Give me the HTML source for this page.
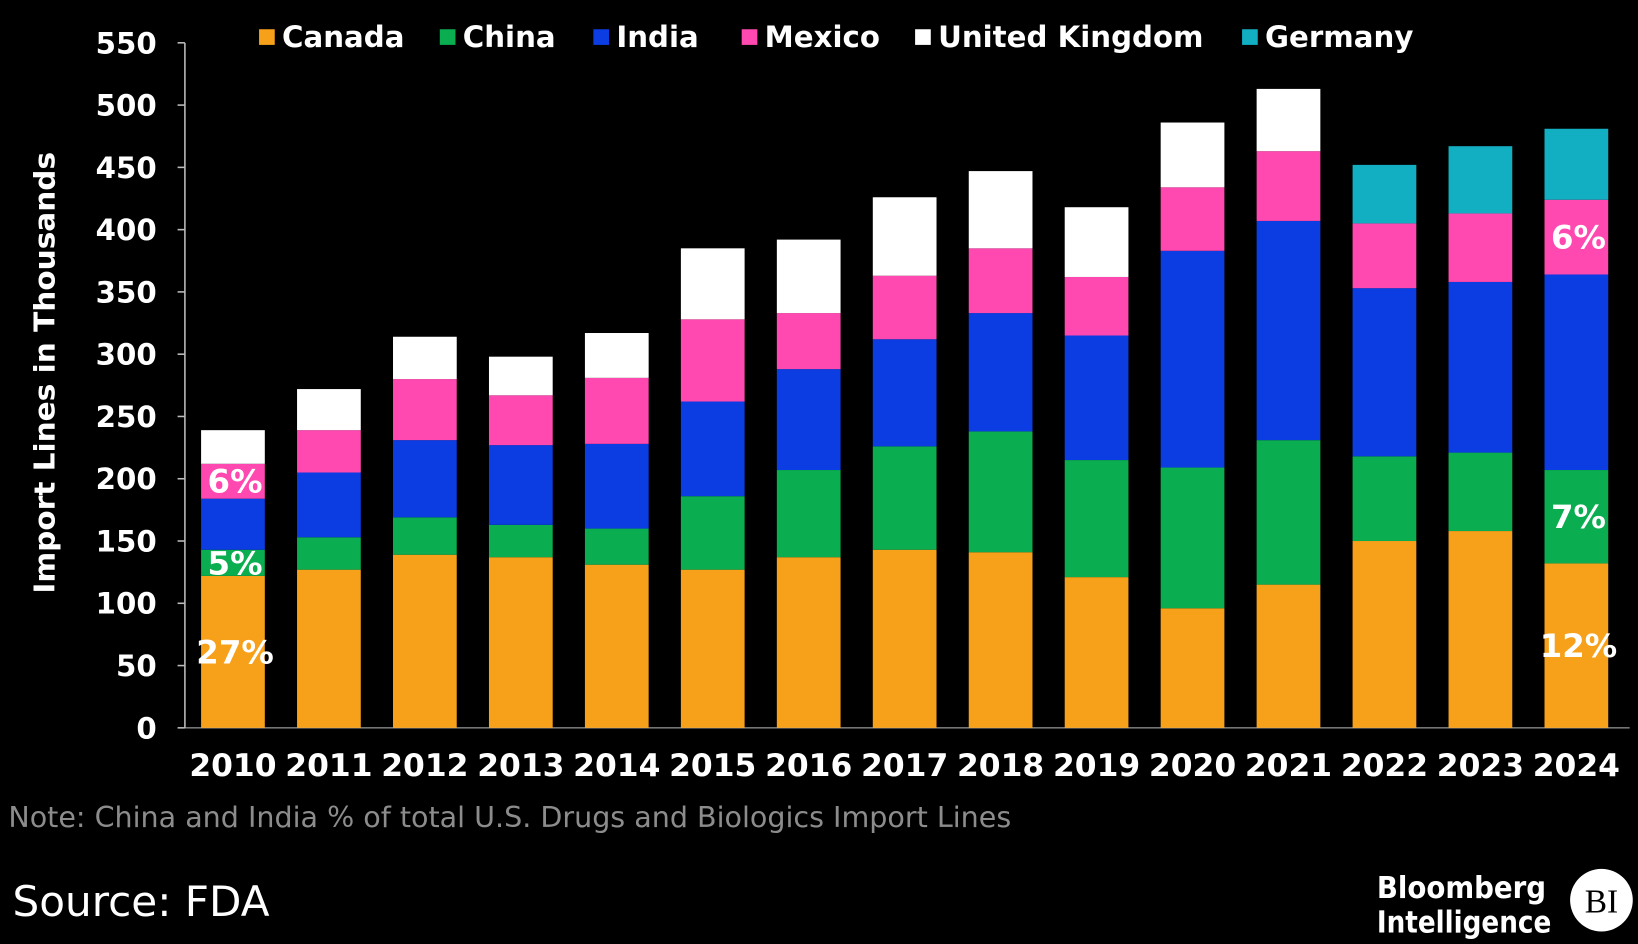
<!DOCTYPE html>
<html><head><meta charset="utf-8">
<style>
html,body{margin:0;padding:0;background:#000;overflow:hidden}
svg{display:block}
text{font-family:"DejaVu Sans","Liberation Sans",sans-serif}
</style></head>
<body>
<svg id="chart" width="1638" height="944" viewBox="0 0 1568 904" preserveAspectRatio="none" xmlns="http://www.w3.org/2000/svg">
<rect x="0" y="0" width="1568" height="904" fill="#000"/>
<g id="legend"></g>
<g id="yaxis"></g>
<g id="bars"></g>
<g id="xaxis"></g>
<g id="labels"></g>
<text transform="translate(52,357) rotate(-90)" text-anchor="middle" font-size="27" font-weight="bold" fill="#fff" textLength="423" lengthAdjust="spacingAndGlyphs">Import Lines in Thousands</text>
<text x="8" y="792" font-size="27" fill="#8c8c8c" textLength="960" lengthAdjust="spacingAndGlyphs">Note: China and India % of total U.S. Drugs and Biologics Import Lines</text>
<text x="12" y="877" font-size="40" fill="#fff" textLength="246" lengthAdjust="spacingAndGlyphs">Source: FDA</text>
<text x="1318" y="860" font-size="29" font-weight="bold" fill="#fff" textLength="162" lengthAdjust="spacingAndGlyphs">Bloomberg</text>
<text x="1318" y="893" font-size="29" font-weight="bold" fill="#fff" textLength="167" lengthAdjust="spacingAndGlyphs">Intelligence</text>
<circle cx="1533" cy="862" r="30" fill="#fff"/>
<text x="1533" y="874" text-anchor="middle" font-size="32" fill="#000" style="font-family:'Liberation Serif',serif">BI</text>
</svg>
<script>
const years = ["2010","2011","2012","2013","2014","2015","2016","2017","2018","2019","2020","2021","2022","2023","2024"];
const seriesNames = ["Canada","China","India","Mexico","United Kingdom","Germany"];
const canada = [122,127,139,137,131,127,137,143,141,121,96,115,150,158,132];
const china = [21,26,30,26,29,59,70,83,97,94,113,116,68,63,75];
const india = [41,52,62,64,68,76,81,86,95,100,174,176,135,137,157];
const mexico = [28,34,49,40,53,66,45,51,52,47,51,56,52,55,60];
const uk = [27,33,34,31,36,57,59,63,62,56,52,50,0,0,0];
const germany = [0,0,0,0,0,0,0,0,0,0,0,0,47,54,57];
const yTicks = [0,50,100,150,200,250,300,350,400,450,500,550];
const annYear = [0,0,0,14,14,14];
const annSeries = [0,1,3,0,1,3];
const annText = ["27%","5%","6%","12%","7%","6%"];

const colors = ["#F7A11A","#0AAD4F","#0B3DE3","#FF48B0","#FFFFFF","#12AFC3"];
const allSeries = [canada,china,india,mexico,uk,germany];
const NS="http://www.w3.org/2000/svg";
const y0=697, yTop=41, vMax=550;
const yScale = v => y0 - v/vMax*(y0-yTop);
const x0=223, step=(1509-223)/14, bw=61;
const xScale = i => x0 + i*step;
function mk(tag, attrs, parent){const e=document.createElementNS(NS,tag);for(const k in attrs)e.setAttribute(k,attrs[k]);parent.appendChild(e);return e;}

const ya=document.getElementById('yaxis');
const axl=mk('line',{x1:177,x2:177,y1:yTop,y2:y0,stroke:'#bbb','stroke-width':1.5},ya);


yTicks.forEach(t=>{
  const tk=mk('line',{x1:170,x2:177,y1:yScale(t),y2:yScale(t),stroke:'#bbb','stroke-width':1.5},ya);
  
  
  const tx=mk('text',{x:150,y:yScale(t)+10,'text-anchor':'end','font-size':28,'font-weight':'bold',fill:'#fff'},ya);
  tx.textContent=t;
  
  
});
const bl=mk('line',{x1:177,x2:1560,y1:y0,y2:y0,stroke:'#bbb','stroke-width':1},ya);



const bg=document.getElementById('bars');
const xa=document.getElementById('xaxis');
years.forEach((yr,i)=>{
  let cum=0;
  allSeries.forEach((s,si)=>{
    const v=s[i]; if(!v){return;}
    const r=mk('rect',{x:xScale(i)-bw/2,width:bw,y:yScale(cum+v),height:yScale(cum)-yScale(cum+v),fill:colors[si]},bg);
    
    
    cum+=v;
  });
  const t=mk('text',{x:xScale(i),y:743,'text-anchor':'middle','font-size':30,'font-weight':'bold',fill:'#fff'},xa);
  t.textContent=yr;
  
  
});

const lg=document.getElementById('labels');
annText.forEach((txt,k)=>{
  const i=annYear[k], si=annSeries[k];
  let base=0; for(let j=0;j<si;j++) base+=allSeries[j][i];
  const mid=(yScale(base)+yScale(base+allSeries[si][i]))/2;
  const t=mk('text',{x:xScale(i)+2,y:mid+11,'text-anchor':'middle','font-size':31,'font-weight':'bold',fill:'#fff'},lg);
  t.textContent=txt;
  
  
});

const lgd=document.getElementById('legend');
const legX=[248,421,568,710,876,1189];
seriesNames.forEach((n,si)=>{
  const r=mk('rect',{x:legX[si],y:28,width:15,height:15,fill:colors[si]},lgd);
  
  
  const t=mk('text',{x:legX[si]+22,y:45,'font-size':28,'font-weight':'bold',fill:'#fff'},lgd);
  t.textContent=n;
  
  
});
</script>
</body></html>
